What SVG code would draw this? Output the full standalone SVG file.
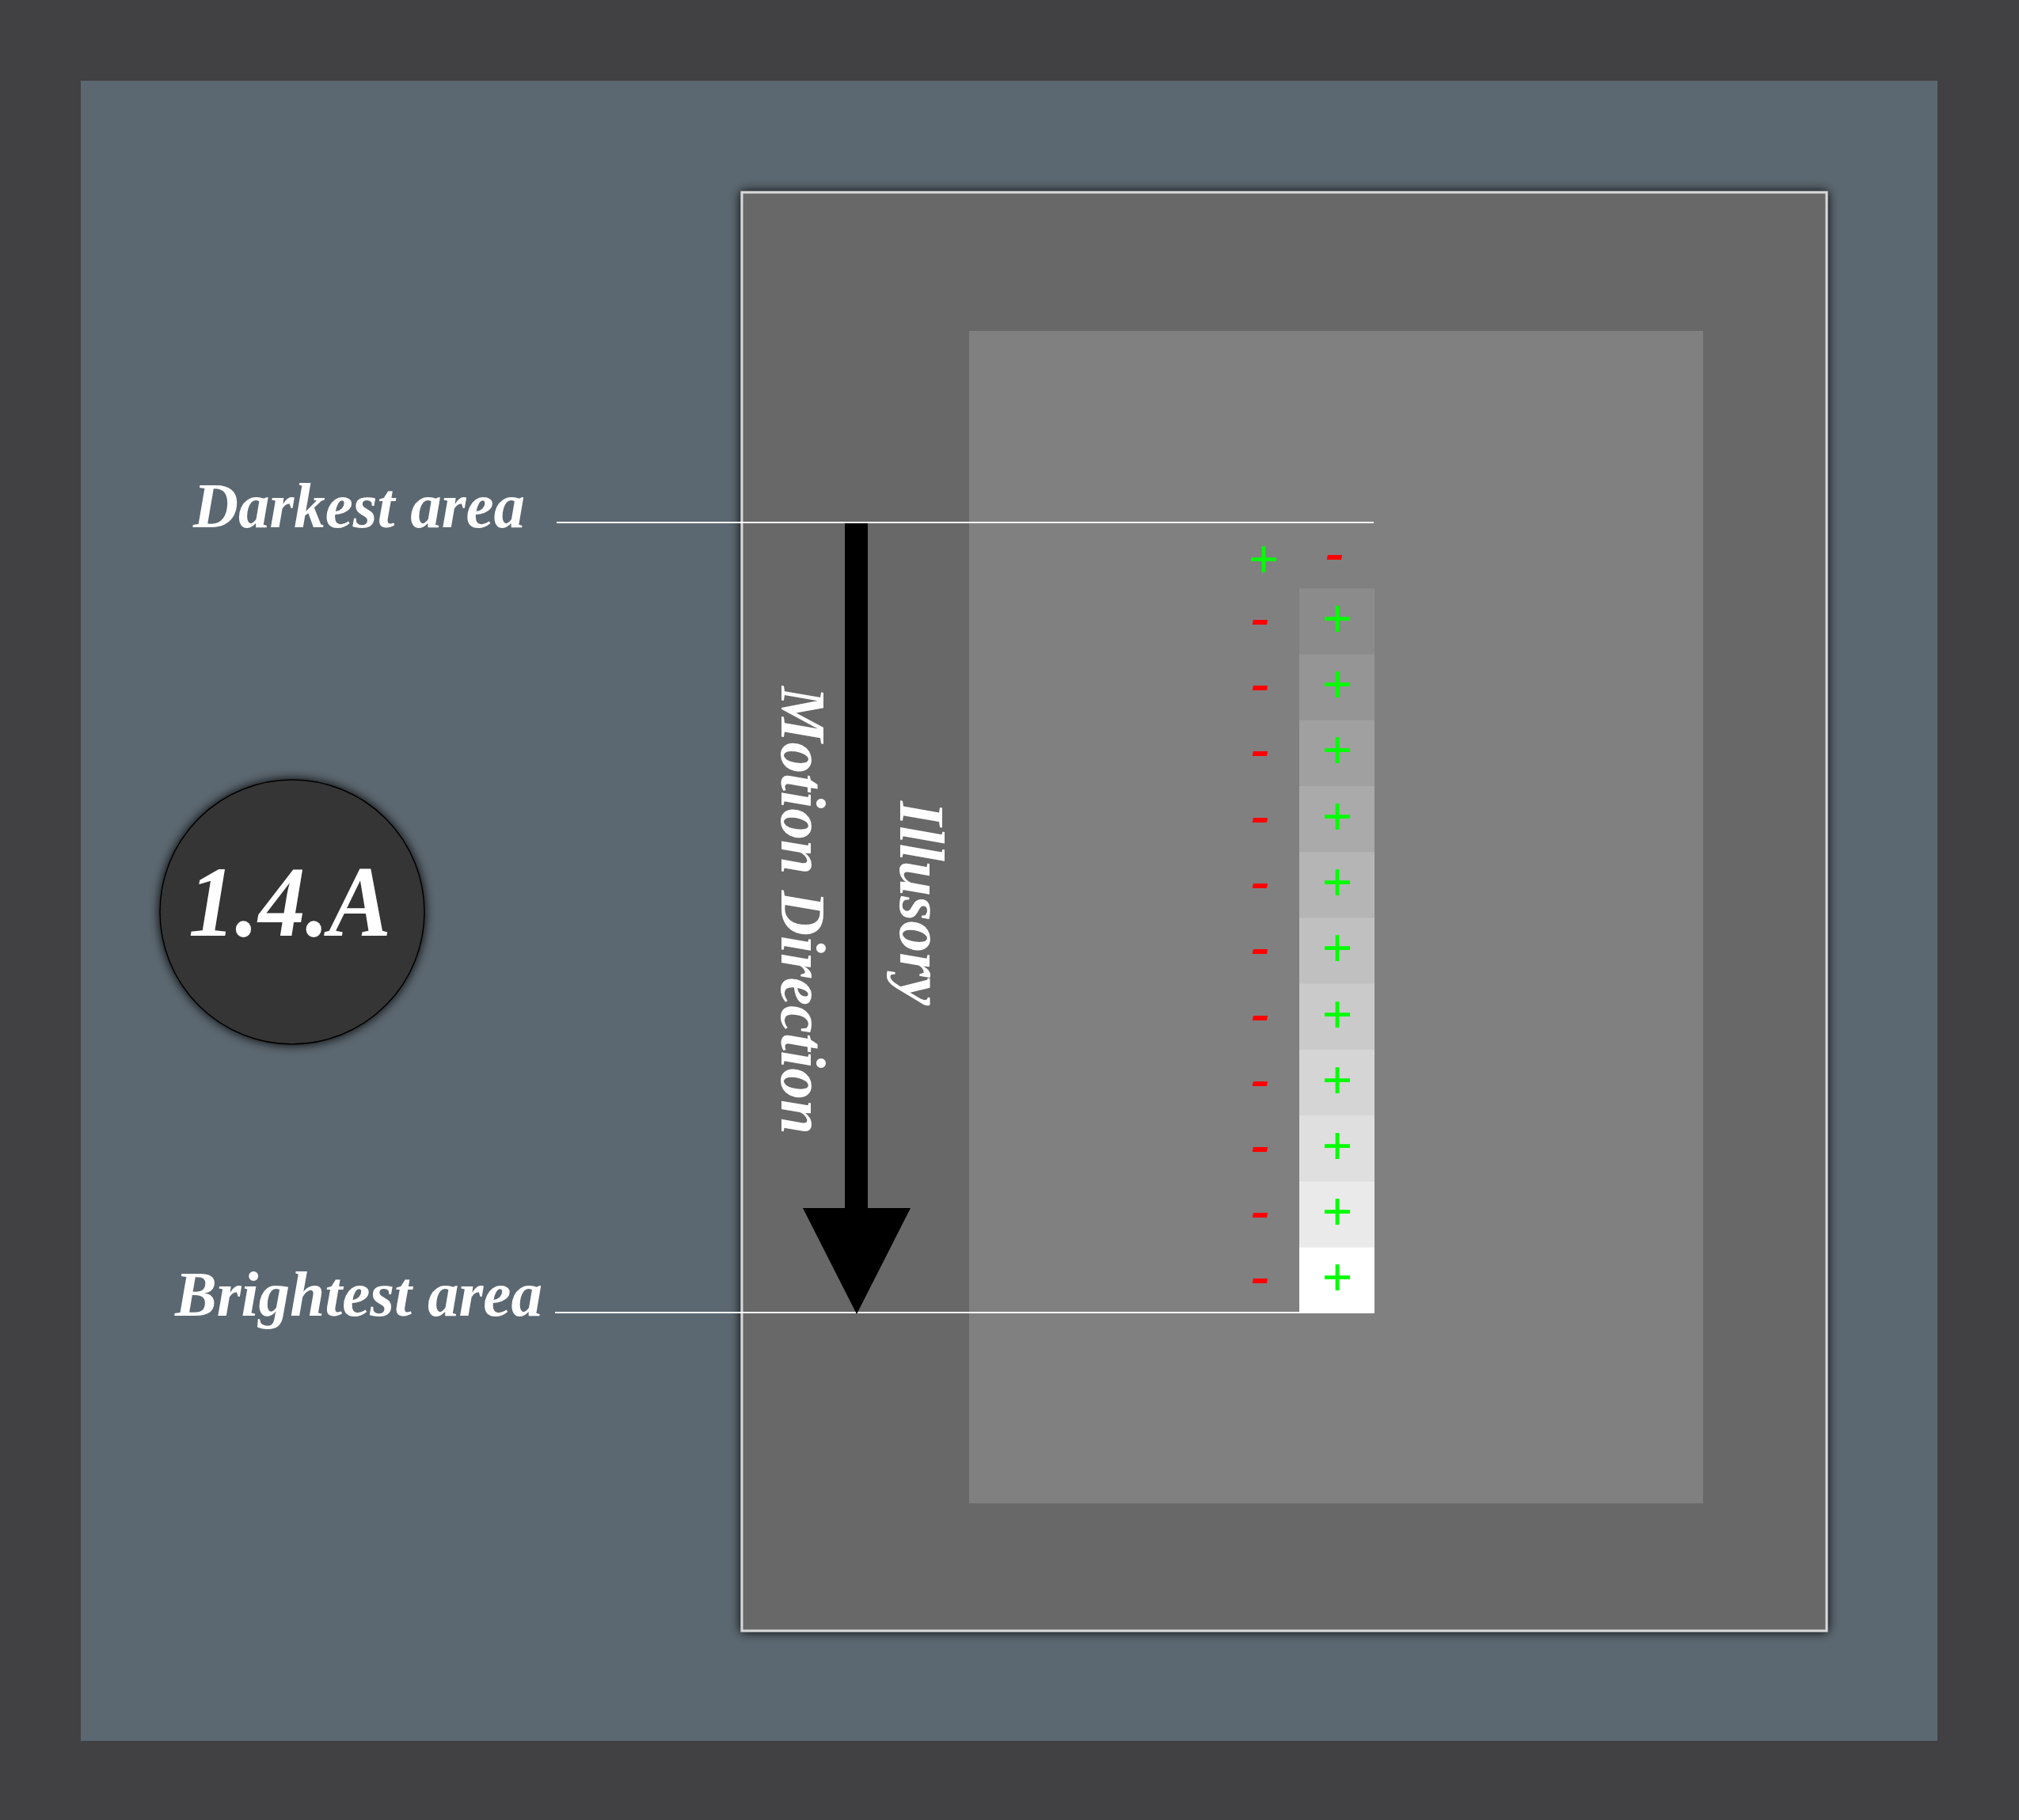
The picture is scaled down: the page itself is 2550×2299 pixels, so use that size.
<svg xmlns="http://www.w3.org/2000/svg" width="2550" height="2299" viewBox="0 0 2550 2299">
<defs>
<filter id="shadow" x="-10%" y="-10%" width="120%" height="120%">
<feGaussianBlur in="SourceAlpha" stdDeviation="7"/>
<feComponentTransfer><feFuncA type="linear" slope="1"/></feComponentTransfer>
<feMerge><feMergeNode/><feMergeNode in="SourceGraphic"/></feMerge>
</filter>
<style>
.lbl{font-family:"Liberation Serif","Times New Roman",serif;font-weight:bold;font-style:italic;fill:#ffffff;font-size:80px}
.plus{font-family:"Liberation Sans",Arial,sans-serif;font-size:66px;fill:#00ff00;text-anchor:middle}
.minus{font-family:"Liberation Serif","Times New Roman",serif;font-weight:bold;font-style:italic;font-size:70px;fill:#ff0000;text-anchor:middle}
.guide{stroke:#ffffff;stroke-width:2;fill:none}
</style>
</defs>
<rect x="0" y="0" width="2550" height="2299" fill="#414042"/>
<rect x="102" y="102" width="2345" height="2097" fill="#5c6871"/>
<g id="panel">
<rect x="937" y="243" width="1370" height="1817" fill="#686868" stroke="#d8d8d8" stroke-width="3" filter="url(#shadow)"/>
<rect x="1224" y="418" width="927" height="1481" fill="#808080"/>
</g>
<g id="gradient-column">
<rect x="1641" y="660" width="95" height="84" fill="#808080"/>
<rect x="1641" y="743.25" width="95" height="84" fill="#8b8b8b"/>
<rect x="1641" y="826.5" width="95" height="84" fill="#959595"/>
<rect x="1641" y="909.75" width="95" height="84" fill="#a0a0a0"/>
<rect x="1641" y="993" width="95" height="84" fill="#aaaaaa"/>
<rect x="1641" y="1076.25" width="95" height="84" fill="#b5b5b5"/>
<rect x="1641" y="1159.5" width="95" height="84" fill="#c0c0c0"/>
<rect x="1641" y="1242.75" width="95" height="84" fill="#cacaca"/>
<rect x="1641" y="1326" width="95" height="84" fill="#d5d5d5"/>
<rect x="1641" y="1409.25" width="95" height="84" fill="#dfdfdf"/>
<rect x="1641" y="1492.5" width="95" height="84" fill="#eaeaea"/>
<rect x="1641" y="1575.75" width="95" height="83" fill="#ffffff"/>
</g>
<g id="signs">
<text class="plus" x="1596" y="729">+</text>
<text class="minus" x="1686" y="721">-</text>
<text class="minus" x="1592" y="803">-</text><text class="plus" x="1689" y="804">+</text>
<text class="minus" x="1592" y="886">-</text><text class="plus" x="1689" y="887">+</text>
<text class="minus" x="1592" y="969">-</text><text class="plus" x="1689" y="970">+</text>
<text class="minus" x="1592" y="1053">-</text><text class="plus" x="1689" y="1054">+</text>
<text class="minus" x="1592" y="1136">-</text><text class="plus" x="1689" y="1137">+</text>
<text class="minus" x="1592" y="1219">-</text><text class="plus" x="1689" y="1220">+</text>
<text class="minus" x="1592" y="1303">-</text><text class="plus" x="1689" y="1304">+</text>
<text class="minus" x="1592" y="1386">-</text><text class="plus" x="1689" y="1387">+</text>
<text class="minus" x="1592" y="1469">-</text><text class="plus" x="1689" y="1470">+</text>
<text class="minus" x="1592" y="1552">-</text><text class="plus" x="1689" y="1553">+</text>
<text class="minus" x="1592" y="1635">-</text><text class="plus" x="1689" y="1636">+</text>
</g>
<g id="connectors">
<line class="guide" x1="703" y1="660" x2="1735" y2="660"/>
<line class="guide" x1="701" y1="1658" x2="1735" y2="1658"/>
<rect x="1067" y="661" width="29" height="867" fill="#000000"/>
<polygon points="1014,1526 1150,1526 1082,1660" fill="#000000"/>
</g>
<g id="label-darkest">
<text class="lbl" x="244" y="666" textLength="419" lengthAdjust="spacingAndGlyphs">Darkest area</text>
</g>
<g id="label-brightest">
<text class="lbl" x="221" y="1662" textLength="464" lengthAdjust="spacingAndGlyphs">Brightest area</text>
</g>
<g id="label-motion">
<text class="lbl" transform="translate(987,867) rotate(90)" x="0" y="0" textLength="566" lengthAdjust="spacingAndGlyphs">Motion Direction</text>
</g>
<g id="label-illusory">
<text class="lbl" transform="translate(1137,1012) rotate(90)" x="0" y="0" textLength="258" lengthAdjust="spacingAndGlyphs">Illusory</text>
</g>
<g id="badge">
<circle cx="369" cy="1152" r="167" fill="#363636" stroke="#000000" stroke-width="1.5" filter="url(#shadow)"/>
<text class="lbl" x="238" y="1182" style="font-size:126px" textLength="256" lengthAdjust="spacingAndGlyphs">1.4.A</text>
</g>
</svg>
